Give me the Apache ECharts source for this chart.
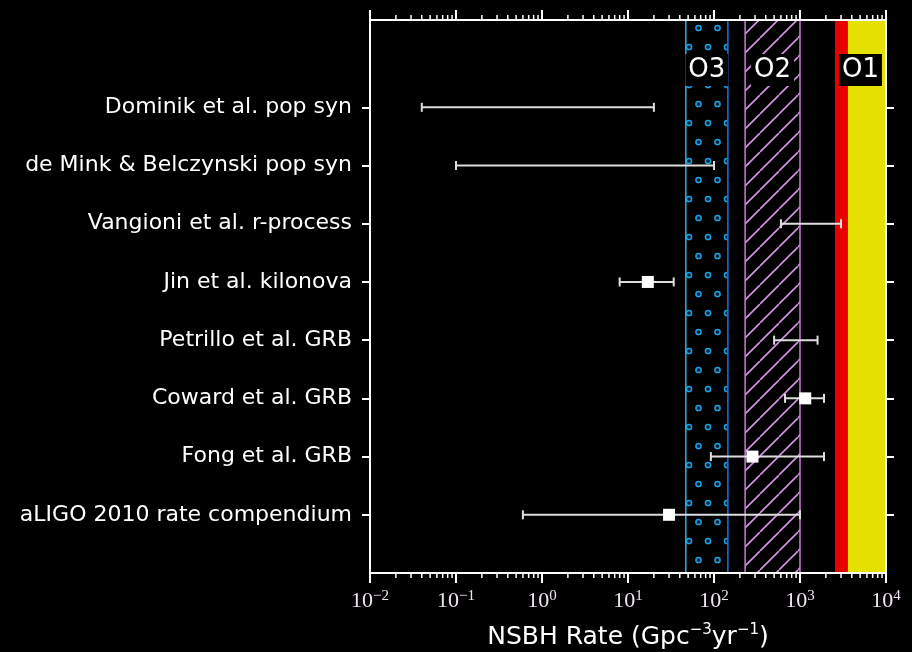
<!DOCTYPE html>
<html>
<head>
<meta charset="utf-8">
<script src="https://cdn.jsdelivr.net/npm/echarts@6/dist/echarts.min.js"></script>
<style>
  html, body { margin: 0; padding: 0; background: #000; }
  #chart { width: 912px; height: 652px; }
</style>
</head>
<body>
<div id="chart"></div>
<script>
// Rate estimates, one row per source (top to bottom)
const categories = [
  'Dominik et al. pop syn',
  'de Mink & Belczynski pop syn',
  'Vangioni et al. r-process',
  'Jin et al. kilonova',
  'Petrillo et al. GRB',
  'Coward et al. GRB',
  'Fong et al. GRB',
  'aLIGO 2010 rate compendium'
];
const rateLow     = [0.04, 0.1, 600, 8,  500,  670,  92,   0.6];
const rateHigh    = [20,   100, 3000, 34, 1600, 1900, 1900, 1000];
const rateCentral = [null, null, null, 17, null, 1150, 280,  30];

// Observing-run sensitivity bands (Gpc^-3 yr^-1)
const bandO3 = [47, 145];
const bandO2 = [230, 1000];
const bandO1Red = [2550, 3600];
const bandO1Yellow = [3600, 10000];
const bandLabels = ['O3', 'O2', 'O1'];

// Axis ranges and ticks
const xMin = 0.01, xMax = 10000;
const decades = [-2, -1, 0, 1, 2, 3];
const minorMultipliers = [2, 3, 4, 5, 6, 7, 8, 9];
const yMin = -1.5, yMax = 8;
const labelRow = -0.64;

const rowIndex = categories.map((_, i) => i);
const minorTicks = [];
decades.forEach(d => minorMultipliers.forEach(m => minorTicks.push(m * Math.pow(10, d))));

function dotPattern() {
  const c = document.createElement('canvas');
  c.width = 19; c.height = 38;
  const g = c.getContext('2d');
  g.strokeStyle = '#1f9fe4';
  g.fillStyle = '#062235';
  g.lineWidth = 1.5;
  [[5, 9], [14.5, 28]].forEach(([x, y]) => {
    g.beginPath(); g.arc(x, y, 2.6, 0, Math.PI * 2); g.fill(); g.stroke();
  });
  return c;
}
function hatchPattern() {
  const c = document.createElement('canvas');
  c.width = 19; c.height = 19;
  const g = c.getContext('2d');
  g.strokeStyle = '#d894e6';
  g.lineWidth = 1.6;
  [[0, 19, 19, 0], [-10, 9.5, 9.5, -10], [9.5, 29, 29, 9.5]].forEach(([a, b, cc, d]) => {
    g.beginPath(); g.moveTo(a, b); g.lineTo(cc, d); g.stroke();
  });
  return c;
}

function bandRenderer(fill, edgeLeft, edgeRight) {
  return function (params, api) {
    const cs = params.coordSys;
    const x0 = api.coord([api.value(0), 0])[0];
    const x1 = api.coord([api.value(1), 0])[0];
    const children = [{
      type: 'rect',
      shape: { x: x0, y: cs.y, width: x1 - x0, height: cs.height },
      style: { fill: fill }
    }];
    if (edgeLeft) children.push({
      type: 'line', shape: { x1: x0, y1: cs.y, x2: x0, y2: cs.y + cs.height },
      style: { stroke: edgeLeft, lineWidth: 1.5 }
    });
    if (edgeRight) children.push({
      type: 'line', shape: { x1: x1, y1: cs.y, x2: x1, y2: cs.y + cs.height },
      style: { stroke: edgeRight, lineWidth: 1.5 }
    });
    return { type: 'group', children: children };
  };
}

function bandLabelRenderer(params, api) {
  const lo = api.value(0), hi = api.value(1);
  const p = api.coord([Math.sqrt(lo * hi), labelRow]);
  return {
    type: 'text',
    x: p[0], y: p[1],
    style: {
      text: bandLabels[params.dataIndex],
      fill: '#fff',
      font: '26px "DejaVu Sans", sans-serif',
      align: 'center',
      verticalAlign: 'middle',
      backgroundColor: '#000',
      padding: [3, 3, 3, 3]
    }
  };
}

function errorBarRenderer(params, api) {
  const y = api.coord([1, api.value(0)])[1];
  const xl = api.coord([api.value(1), 0])[0];
  const xh = api.coord([api.value(2), 0])[0];
  const cap = 4.5;
  const st = { stroke: '#dedede', lineWidth: 2 };
  return {
    type: 'group',
    children: [
      { type: 'line', shape: { x1: xl, y1: y, x2: xh, y2: y }, style: st },
      { type: 'line', shape: { x1: xl, y1: y - cap, x2: xl, y2: y + cap }, style: st },
      { type: 'line', shape: { x1: xh, y1: y - cap, x2: xh, y2: y + cap }, style: st }
    ]
  };
}

function minorTickRenderer(params, api) {
  const cs = params.coordSys;
  const x = api.coord([api.value(0), 0])[0];
  const st = { stroke: '#fff', lineWidth: 1.5 };
  const len = 5;
  return {
    type: 'group',
    children: [
      { type: 'line', shape: { x1: x, y1: cs.y + cs.height, x2: x, y2: cs.y + cs.height + len }, style: st },
      { type: 'line', shape: { x1: x, y1: cs.y, x2: x, y2: cs.y - len }, style: st }
    ]
  };
}

const axisLineStyle = { color: '#fff', width: 2 };
const tickLabelColor = '#efe4f2';

const chart = echarts.init(document.getElementById('chart'), null, { renderer: 'canvas' });
chart.setOption({
  backgroundColor: '#000',
  animation: false,
  grid: { left: 370, right: 26, top: 20, bottom: 79, containLabel: false, outerBoundsMode: 'none' },
  xAxis: [{
    type: 'log', logBase: 10, min: xMin, max: xMax, position: 'bottom', z: 10,
    axisLine: { show: true, onZero: false, lineStyle: axisLineStyle },
    axisTick: { show: true, inside: false, length: 10, lineStyle: axisLineStyle },
    splitLine: { show: false },
    axisLabel: {
      margin: 16,
      formatter: function (v) {
        const e = Math.round(Math.log10(v));
        return '{b|10}{s|' + (e < 0 ? '\u2212' + (-e) : e) + '}';
      },
      rich: {
        b: { fontSize: 22, fontFamily: '"Liberation Serif", serif', color: tickLabelColor, lineHeight: 24 },
        s: { fontSize: 15, fontFamily: '"Liberation Serif", serif', color: tickLabelColor, verticalAlign: 'top', lineHeight: 13 }
      }
    },
    name: '{a|NSBH Rate (Gpc}{s|\u22123}{a|yr}{s|\u22121}{a|)}',
    nameLocation: 'middle',
    nameGap: 50,
    nameTextStyle: {
      rich: {
        a: { fontSize: 25, fontFamily: '"DejaVu Sans", sans-serif', color: '#fff', lineHeight: 28 },
        s: { fontSize: 15, fontFamily: '"DejaVu Sans", sans-serif', color: '#fff', verticalAlign: 'top', lineHeight: 13 }
      }
    }
  }, {
    type: 'log', logBase: 10, min: xMin, max: xMax, position: 'top', z: 10,
    axisLine: { show: true, onZero: false, lineStyle: axisLineStyle },
    axisTick: { show: true, inside: false, length: 10, lineStyle: axisLineStyle },
    axisLabel: { show: false },
    splitLine: { show: false }
  }],
  yAxis: [{
    type: 'value', min: yMin, max: yMax, inverse: true, position: 'left', z: 10,
    axisLine: { show: true, onZero: false, lineStyle: axisLineStyle },
    axisTick: { show: true, inside: false, length: 8, customValues: rowIndex, lineStyle: axisLineStyle },
    splitLine: { show: false },
    axisLabel: {
      customValues: rowIndex,
      formatter: function (v) { return categories[Math.round(v)]; },
      color: '#fff', fontSize: 22, fontFamily: '"DejaVu Sans", sans-serif', margin: 18
    }
  }, {
    type: 'value', min: yMin, max: yMax, inverse: true, position: 'right', z: 10,
    axisLine: { show: true, onZero: false, lineStyle: axisLineStyle },
    axisTick: { show: true, inside: false, length: 8, customValues: rowIndex, lineStyle: axisLineStyle },
    splitLine: { show: false },
    axisLabel: { show: false }
  }],
  series: [
    { type: 'custom', name: 'O3', z: 1, renderItem: bandRenderer({ image: dotPattern(), repeat: 'repeat' }, '#2cb2e6', '#1f6fe0'), data: [bandO3] },
    { type: 'custom', name: 'O2', z: 1, renderItem: bandRenderer({ image: hatchPattern(), repeat: 'repeat' }, '#cc7ad8', '#cc7ad8'), data: [bandO2] },
    { type: 'custom', name: 'O1 red', z: 1, renderItem: bandRenderer('#e60000', null, null), data: [bandO1Red] },
    { type: 'custom', name: 'O1 yellow', z: 1, renderItem: bandRenderer('#e6e000', null, null), data: [bandO1Yellow] },
    { type: 'custom', name: 'band labels', z: 3, renderItem: bandLabelRenderer,
      data: [bandO3, bandO2, [bandO1Red[0], bandO1Yellow[1]]] },
    { type: 'custom', name: 'error bars', z: 4, renderItem: errorBarRenderer,
      encode: { x: [1, 2], y: 0 },
      data: rowIndex.map(i => [i, rateLow[i], rateHigh[i]]) },
    { type: 'scatter', name: 'central', z: 5, symbol: 'rect', symbolSize: 12,
      itemStyle: { color: '#fff', opacity: 1 },
      data: rowIndex.filter(i => rateCentral[i] != null).map(i => [rateCentral[i], i]) },
    { type: 'custom', name: 'minor ticks', z: 11, renderItem: minorTickRenderer,
      data: minorTicks.map(v => [v]) }
  ]
});
</script>
</body>
</html>
